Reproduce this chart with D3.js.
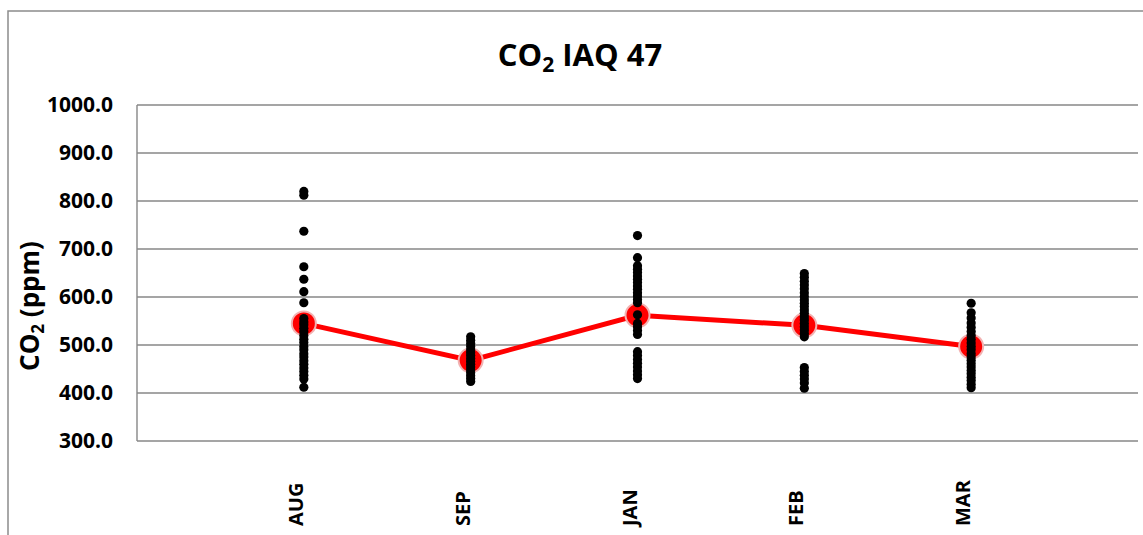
<!DOCTYPE html>
<html>
<head>
<meta charset="utf-8">
<script src="https://cdn.jsdelivr.net/npm/d3@7/dist/d3.min.js"></script>
<style>
  html, body { margin: 0; padding: 0; background: #fff; }
  svg { display: block; font-family: "Open Sans", sans-serif; }
</style>
</head>
<body>
<svg id="chart" width="1143" height="535"></svg>
<script>
// ---- data ----
const months = ["AUG", "SEP", "JAN", "FEB", "MAR"];
const yTicks = [300, 400, 500, 600, 700, 800, 900, 1000];
const augValues = [820, 812, 737, 663, 637, 611, 588, 555, 548, 542, 535, 528, 520, 512, 505, 497, 490, 482, 475, 467, 460, 452, 445, 437, 429, 412];
const sepValues = [517, 510, 503, 497, 490, 484, 478, 472, 466, 460, 454, 448, 442, 436, 430, 424];
const janValues = [728, 682, 665, 658, 651, 644, 637, 630, 623, 616, 609, 602, 595, 588, 563, 545, 538, 530, 522, 486, 478, 470, 462, 454, 446, 438, 430];
const febValues = [649, 641, 633, 625, 617, 609, 601, 594, 587, 580, 573, 566, 559, 552, 545, 538, 531, 524, 517, 453, 445, 437, 429, 421, 410];
const marValues = [587, 567, 556, 546, 537, 528, 520, 512, 504, 497, 490, 482, 475, 468, 461, 454, 447, 440, 433, 426, 418, 411];
const meanValues = [545, 468, 562, 541, 497];

const readings = [augValues, sepValues, janValues, febValues, marValues];

// ---- layout ----
const svg = d3.select("#chart");
const plot = { left: 137, right: 1138, top: 105, bottom: 441 };

const x = d3.scaleLinear().domain([0, 6]).range([plot.left, plot.right]);
const y = d3.scaleLinear().domain([300, 1000]).range([plot.bottom, plot.top]);

// outer chart border (cropped)
svg.append("rect")
  .attr("x", 8).attr("y", 11)
  .attr("width", 1200).attr("height", 600)
  .attr("fill", "none").attr("stroke", "#8c8c8c").attr("stroke-width", 1.5);

// title
const title = svg.append("text")
  .attr("x", 580).attr("y", 66)
  .attr("text-anchor", "middle")
  .attr("font-size", 31).attr("font-weight", "bold").attr("fill", "#000");
title.append("tspan").text("CO");
title.append("tspan").attr("font-size", 21).attr("dy", 6).text("2");
title.append("tspan").attr("dy", -6).text(" IAQ 47");

// gridlines
svg.append("g").selectAll("line").data(yTicks).join("line")
  .attr("x1", plot.left).attr("x2", plot.right)
  .attr("y1", d => y(d)).attr("y2", d => y(d))
  .attr("stroke", "#878787").attr("stroke-width", 1.4);

// left axis line
svg.append("line")
  .attr("x1", plot.left).attr("x2", plot.left)
  .attr("y1", y(1000)).attr("y2", y(300))
  .attr("stroke", "#878787").attr("stroke-width", 1.4);

// y axis tick labels via d3 axis
const yAxis = d3.axisLeft(y).tickValues(yTicks).tickFormat(d3.format(".1f")).tickSize(0).tickPadding(24);
const yg = svg.append("g").attr("transform", `translate(${plot.left},0)`).call(yAxis);
yg.select(".domain").remove();
yg.selectAll("text")
  .attr("font-family", "Open Sans, sans-serif")
  .attr("font-size", 21).attr("font-weight", "bold").attr("fill", "#000");

// y axis title
const yt = svg.append("text")
  .attr("transform", "translate(39,306) rotate(-90)")
  .attr("text-anchor", "middle")
  .attr("font-size", 26).attr("font-weight", "bold").attr("fill", "#000");
yt.append("tspan").text("CO");
yt.append("tspan").attr("font-size", 17).attr("dy", 5).text("2");
yt.append("tspan").attr("dy", -5).text(" (ppm)");

// x labels (rotated)
svg.append("g").selectAll("text").data(months).join("text")
  .attr("transform", (d, i) => `translate(${x(i + 1) - 1},526) rotate(-90)`)
  .attr("text-anchor", "start")
  .attr("font-size", 20).attr("font-weight", "bold").attr("fill", "#000")
  .text(d => d);

// mean line
const line = d3.line().x((d, i) => x(i + 1)).y(d => y(d));
svg.append("path").datum(meanValues)
  .attr("d", line)
  .attr("fill", "none").attr("stroke", "#ff0000").attr("stroke-width", 5);

svg.append("g").selectAll("circle").data(meanValues).join("circle")
  .attr("cx", (d, i) => x(i + 1)).attr("cy", d => y(d))
  .attr("r", 12)
  .attr("fill", "#ff0000").attr("stroke", "#f2b2b2").attr("stroke-width", 2);

// individual readings
const pts = readings.flatMap((vals, i) => vals.map(v => ({ i, v })));
svg.append("g").selectAll("circle").data(pts).join("circle")
  .attr("cx", d => x(d.i + 1)).attr("cy", d => y(d.v))
  .attr("r", 4.6).attr("fill", "#000");
</script>
</body>
</html>
